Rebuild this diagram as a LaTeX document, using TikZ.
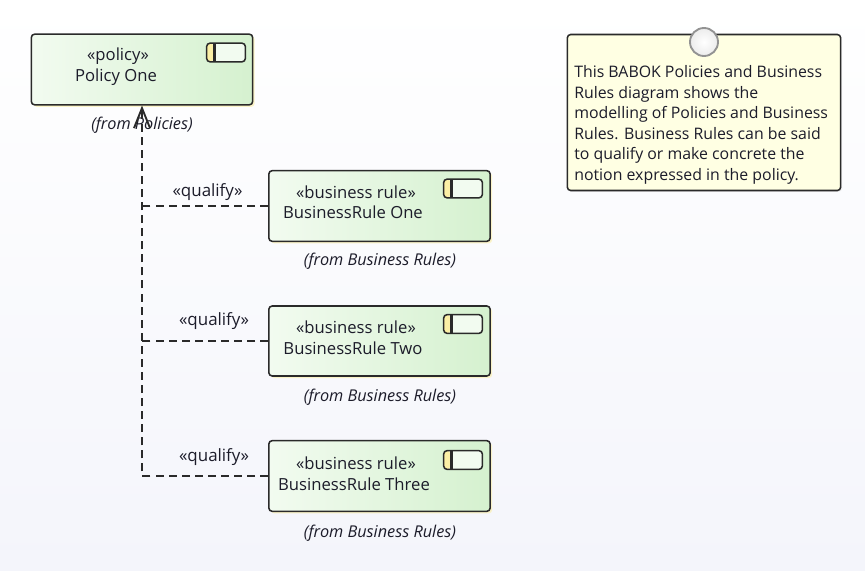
\documentclass[tikz,border=0pt]{standalone}
\usepackage{fontspec}
\setmainfont{Open Sans}
\usetikzlibrary{arrows.meta, shadows}
\definecolor{inkdark}{HTML}{1C1C2A}
\definecolor{boxline}{HTML}{2A2A2A}
\definecolor{greenlo}{HTML}{F2FBF0}
\definecolor{greenhi}{HTML}{D5F1CF}
\definecolor{notefill}{HTML}{FFFFE3}
\definecolor{iconyellow}{HTML}{FBEFA5}
\definecolor{pagelo}{HTML}{F4F5FB}
\tikzset{
  element/.style={draw=boxline, line width=1.15pt, rounded corners=2.5pt, minimum width=166pt, left color=greenlo, right color=greenhi, drop shadow={shadow xshift=1.5pt, shadow yshift=-1.5pt, fill=iconyellow, opacity=.6}},
  elemicon/.style={draw=boxline, line width=1.15pt, rounded corners=2.5pt, minimum width=29pt, minimum height=14pt, inner sep=0pt, fill=greenlo,
    path picture={\fill[iconyellow] (path picture bounding box.north west) rectangle ([xshift=5pt]path picture bounding box.south west);
      \draw[boxline, line width=1.9pt] ([xshift=6pt]path picture bounding box.north west) -- ([xshift=6pt]path picture bounding box.south west);}},
  elemtext/.style={text=inkdark, font=\fontsize{12.5}{14}\selectfont, inner sep=0pt},
  fromtext/.style={text=inkdark, font=\fontsize{12.2}{14}\selectfont\itshape, inner sep=0pt},
  qualify/.style={draw=boxline, line width=1.4pt, dash pattern=on 6pt off 3.8pt},
  qualtext/.style={text=inkdark, font=\fontsize{12.7}{14}\selectfont, inner sep=0pt}
}
\begin{document}
\begin{tikzpicture}[x=.75pt, y=-.75pt]
\useasboundingbox (0,0) rectangle (865,571);
\fill[top color=white, bottom color=pagelo] (0,0) rectangle (865,571);
% elements
\node[element, minimum height=53pt] (policy) at (142,69.5) {};
\node[element, minimum height=53pt] (ruleone) at (379.5,206) {};
\node[element, minimum height=52.5pt] (ruletwo) at (379.5,341) {};
\node[element, minimum height=53pt] (rulethree) at (379.5,476) {};
% icons
\node[elemicon] (policyicon) at (226,52.5) {};
\node[elemicon] (oneicon) at (463,188.5) {};
\node[elemicon] (twoicon) at (463,324) {};
\node[elemicon] (threeicon) at (463,460) {};
% names
\node[elemtext] (policystereo) at (118,56) {«policy»};
\node[elemtext] (policyname) at (116,77.5) {Policy One};
\node[elemtext] (onestereo) at (356,192) {«business rule»};
\node[elemtext] (onename) at (353,212) {BusinessRule One};
\node[elemtext] (twostereo) at (356,327) {«business rule»};
\node[elemtext] (twoname) at (353,348) {BusinessRule Two};
\node[elemtext] (threestereo) at (356,463) {«business rule»};
\node[elemtext] (threename) at (354,484) {BusinessRule Three};
% from labels
\node[fromtext] (policyfrom) at (142,125) {(from Policies)};
\node[fromtext] (onefrom) at (380,261.5) {(from Business Rules)};
\node[fromtext] (twofrom) at (380,397.5) {(from Business Rules)};
\node[fromtext] (threefrom) at (380,533.5) {(from Business Rules)};
% note
\node[draw=boxline, line width=1.15pt, rounded corners=2.5pt, fill=notefill, minimum width=205pt, minimum height=117pt, drop shadow={shadow xshift=1pt, shadow yshift=-1pt, fill=gray!30, opacity=.4}] (note) at (704,112.5) {};
\node[circle, draw=gray!85, line width=1.4pt, minimum size=21pt, inner sep=0pt, inner color=white, outer color=gray!15] (notepin) at (704,42) {};
\node[text=inkdark, font=\fontsize{11.9}{15.4}\selectfont, align=left, inner sep=0pt, anchor=north west] (notetext) at (574,65.5) {This BABOK Policies and Business\\Rules diagram shows the\\modelling of Policies and Business\\Rules. Business Rules can be said\\to qualify or make concrete the\\notion expressed in the policy.};
% connectors
\draw[qualify, -{Straight Barb[length=15pt, width=12pt]}] (rulethree.west) -| (policy.south);
\draw[qualify] (ruleone.west) -- (ruleone.west -| policy.south);
\draw[qualify] (ruletwo.west) -- (ruletwo.west -| policy.south);
\node[qualtext] (qualone) at (207.5,192) {«qualify»};
\node[qualtext] (qualtwo) at (214,321.5) {«qualify»};
\node[qualtext] (qualthree) at (214,457.5) {«qualify»};
\end{tikzpicture}
\end{document}
